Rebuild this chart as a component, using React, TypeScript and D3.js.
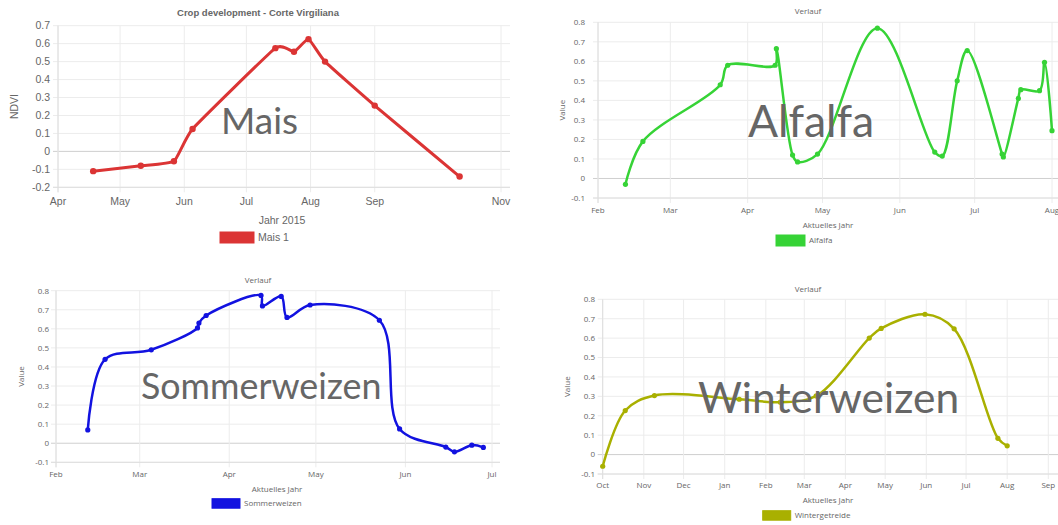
import React from "react";
import * as d3 from "d3";

// Mais 2015 (NDVI)
const maisDates = ["2015-04-18", "2015-05-11", "2015-05-27", "2015-06-05", "2015-07-15", "2015-07-24", "2015-07-31", "2015-08-08", "2015-09-01", "2015-10-12"];
const maisValues = [-0.11, -0.08, -0.055, 0.125, 0.575, 0.555, 0.625, 0.5, 0.255, -0.14];
const maisTicks = ["2015-04-01", "2015-05-01", "2015-06-01", "2015-07-01", "2015-08-01", "2015-09-01", "2015-11-01"];
const maisYTicks = [-0.2, -0.1, 0, 0.1, 0.2, 0.3, 0.4, 0.5, 0.6, 0.7];

// Alfalfa 2016
const alfalfaDates = ["2016-02-12", "2016-02-19", "2016-03-21", "2016-03-24", "2016-04-12", "2016-04-12T12", "2016-04-19", "2016-04-21", "2016-04-29", "2016-05-23", "2016-06-15", "2016-06-18", "2016-06-24", "2016-06-28", "2016-07-12", "2016-07-12T12", "2016-07-18T12", "2016-07-19T12", "2016-07-27", "2016-07-29", "2016-08-01"];
const alfalfaValues = [-0.03, 0.19, 0.48, 0.58, 0.58, 0.665, 0.12, 0.085, 0.125, 0.77, 0.135, 0.115, 0.5, 0.655, 0.125, 0.11, 0.41, 0.455, 0.45, 0.595, 0.245];
const alfalfaTicks = ["2016-02-01", "2016-03-01", "2016-04-01", "2016-05-01", "2016-06-01", "2016-07-01", "2016-08-01"];

// Sommerweizen 2016
const sommerDates = ["2016-02-12", "2016-02-18", "2016-03-05", "2016-03-21", "2016-03-21T12", "2016-03-24", "2016-04-12", "2016-04-12T12", "2016-04-19", "2016-04-21", "2016-04-29", "2016-05-23", "2016-05-30", "2016-06-15", "2016-06-18", "2016-06-24", "2016-06-28"];
const sommerValues = [0.07, 0.44, 0.49, 0.605, 0.63, 0.67, 0.775, 0.72, 0.77, 0.66, 0.725, 0.645, 0.075, -0.02, -0.045, -0.01, -0.022];
const sommerTicks = ["2016-02-01", "2016-03-01", "2016-04-01", "2016-05-01", "2016-06-01", "2016-07-01"];

// Wintergetreide 2015/16
const winterDates = ["2015-10-01", "2015-10-18", "2015-11-09", "2016-01-12", "2016-02-12", "2016-03-10", "2016-04-19", "2016-04-28", "2016-05-31", "2016-06-22", "2016-07-25", "2016-08-01"];
const winterValues = [-0.06, 0.227, 0.304, 0.285, 0.27, 0.302, 0.6, 0.65, 0.723, 0.648, 0.084, 0.045];
const winterTicks = ["2015-10-01", "2015-11-01", "2015-12-01", "2016-01-01", "2016-02-01", "2016-03-01", "2016-04-01", "2016-05-01", "2016-06-01", "2016-07-01", "2016-08-01", "2016-09-01"];

const valueYTicks = [-0.1, 0, 0.1, 0.2, 0.3, 0.4, 0.5, 0.6, 0.7, 0.8];

const parseHour = d3.utcParse("%Y-%m-%dT%H");
const parseDay = d3.utcParse("%Y-%m-%d");
const toDate = (s: string) => (parseHour(s) ?? parseDay(s)) as Date;
const monthFmt = d3.utcFormat("%b");

type PanelProps = {
  dates: string[];
  values: number[];
  ticks: string[];
  yTicks: number[];
  xDomain: [string, string];
  xRange: [number, number];
  left: number;
  right: number;
  top: number;
  bottom: number;
  color: string;
  font: string;
  fs: number;
  title: string;
  titleBold?: boolean;
  titleSize?: number;
  titleX: number;
  titleY: number;
  yLabel: string;
  yLabelX: number;
  yTickX: number;
  xLabelY: number;
  xTitle: string;
  xTitleX: number;
  xTitleY: number;
  legend: string;
  legendBox: [number, number, number, number];
  big: string;
  bigX: number;
  bigY: number;
  bigSize: number;
  lineW: number;
  r: number;
  curve: d3.CurveFactory;
};

function Panel(p: PanelProps) {
  const x = d3.scaleUtc().domain(p.xDomain.map(toDate)).range(p.xRange);
  const y = d3
    .scaleLinear()
    .domain([p.yTicks[0], p.yTicks[p.yTicks.length - 1]])
    .range([p.bottom, p.top]);
  const pts = p.dates.map((d, i) => ({ t: toDate(d), v: p.values[i] }));
  const line = d3
    .line<{ t: Date; v: number }>()
    .x((d) => x(d.t))
    .y((d) => y(d.v))
    .curve(p.curve);
  const [lx, ly, lw, lh] = p.legendBox;
  const txt = "#666";

  return (
    <g fontFamily={p.font}>
      <text x={p.titleX} y={p.titleY} textAnchor="middle" fontSize={p.titleSize ?? p.fs} fontWeight={p.titleBold ? "bold" : "normal"} fill={txt}>
        {p.title}
      </text>
      {p.yTicks.map((v) => (
        <g key={"y" + v}>
          <line x1={p.left - 5} x2={p.right} y1={y(v)} y2={y(v)} stroke={v === 0 ? "#cfcfcf" : "#ececec"} strokeWidth={1} />
          <text x={p.yTickX} y={y(v)} dy="0.35em" textAnchor="end" fontSize={p.fs} fill={txt}>
            {String(v)}
          </text>
        </g>
      ))}
      {p.ticks.map((s) => {
        const d = toDate(s);
        return (
          <g key={s}>
            <line x1={x(d)} x2={x(d)} y1={p.top} y2={p.bottom + 5} stroke="#ececec" strokeWidth={1} />
            <text x={x(d)} y={p.xLabelY} textAnchor="middle" fontSize={p.fs} fill={txt}>
              {monthFmt(d)}
            </text>
          </g>
        );
      })}
      <line x1={p.left} x2={p.left} y1={p.top} y2={p.bottom + 5} stroke="#dedede" strokeWidth={1} />
      <line x1={p.left - 5} x2={p.right} y1={p.bottom} y2={p.bottom} stroke="#dedede" strokeWidth={1} />
      <text transform={`translate(${p.yLabelX},${(p.top + p.bottom) / 2}) rotate(-90)`} textAnchor="middle" dy="0.35em" fontSize={p.fs} fill={txt}>
        {p.yLabel}
      </text>
      <text x={p.xTitleX} y={p.xTitleY} textAnchor="middle" fontSize={p.fs} fill={txt}>
        {p.xTitle}
      </text>
      <rect x={lx} y={ly} width={lw} height={lh} fill={p.color} stroke={p.color} />
      <text x={lx + lw + 4} y={ly + lh / 2} dy="0.35em" fontSize={p.fs} fill={txt}>
        {p.legend}
      </text>
      <path d={line(pts) ?? ""} fill="none" stroke={p.color} strokeWidth={p.lineW} strokeLinejoin="round" />
      {pts.map((d, i) => (
        <circle key={i} cx={x(d.t)} cy={y(d.v)} r={p.r} fill={p.color} />
      ))}
      <text x={p.bigX} y={p.bigY} fontSize={p.bigSize} fontFamily="Lato" fill="#666">
        {p.big}
      </text>
    </g>
  );
}

export default function App() {
  const small = "'Open Sans', sans-serif";
  const smooth = d3.curveCatmullRom.alpha(0.5);
  return (
    <svg width={1058} height={525} style={{ position: "absolute", left: 0, top: 0, background: "#fff" }}>
      <Panel
        dates={maisDates}
        values={maisValues}
        ticks={maisTicks}
        yTicks={maisYTicks}
        xDomain={["2015-04-01", "2015-11-01"]}
        xRange={[58, 501]}
        left={58}
        right={510}
        top={25.7}
        bottom={187.3}
        color="#db3434"
        font="'Liberation Sans', Arial, sans-serif"
        fs={10.5}
        title="Crop development - Corte Virgiliana"
        titleBold
        titleSize={9.5}
        titleX={258}
        titleY={16}
        yLabel="NDVI"
        yLabelX={14}
        yTickX={50}
        xLabelY={205}
        xTitle="Jahr 2015"
        xTitleX={282}
        xTitleY={224}
        legend="Mais 1"
        legendBox={[220, 232, 34, 11]}
        big="Mais"
        bigX={221}
        bigY={134}
        bigSize={37}
        lineW={3}
        r={3.2}
        curve={d3.curveCardinal.tension(0.6)}
      />
      <Panel
        dates={alfalfaDates}
        values={alfalfaValues}
        ticks={alfalfaTicks}
        yTicks={valueYTicks}
        xDomain={["2016-02-01", "2016-08-01"]}
        xRange={[598, 1052]}
        left={598}
        right={1070}
        top={22.3}
        bottom={198}
        color="#36d336"
        font={small}
        fs={8}
        title="Verlauf"
        titleX={808}
        titleY={14}
        yLabel="Value"
        yLabelX={562}
        yTickX={585}
        xLabelY={213}
        xTitle="Aktuelles Jahr"
        xTitleX={828}
        xTitleY={228}
        legend="Alfalfa"
        legendBox={[776, 235, 29, 11]}
        big="Alfalfa"
        bigX={748}
        bigY={137}
        bigSize={44.5}
        lineW={2.5}
        r={2.6}
        curve={smooth}
      />
      <Panel
        dates={sommerDates}
        values={sommerValues}
        ticks={sommerTicks}
        yTicks={valueYTicks}
        xDomain={["2016-02-01", "2016-07-01"]}
        xRange={[56, 492]}
        left={56}
        right={500}
        top={290.7}
        bottom={462.3}
        color="#1212e0"
        font={small}
        fs={8}
        title="Verlauf"
        titleX={258}
        titleY={283}
        yLabel="Value"
        yLabelX={21}
        yTickX={49}
        xLabelY={477}
        xTitle="Aktuelles Jahr"
        xTitleX={277}
        xTitleY={492}
        legend="Sommerweizen"
        legendBox={[212, 498.7, 28, 9.5]}
        big="Sommerweizen"
        bigX={141}
        bigY={399}
        bigSize={35.8}
        lineW={2.5}
        r={2.6}
        curve={smooth}
      />
      <Panel
        dates={winterDates}
        values={winterValues}
        ticks={winterTicks}
        yTicks={valueYTicks}
        xDomain={["2015-10-01", "2016-09-01"]}
        xRange={[602.7, 1048.3]}
        left={602.7}
        right={1070}
        top={299.3}
        bottom={474}
        color="#a9b000"
        font={small}
        fs={8}
        title="Verlauf"
        titleX={808}
        titleY={292}
        yLabel="Value"
        yLabelX={567}
        yTickX={595}
        xLabelY={488}
        xTitle="Aktuelles Jahr"
        xTitleX={828}
        xTitleY={503}
        legend="Wintergetreide"
        legendBox={[762.7, 510.7, 28, 9.5]}
        big="Winterweizen"
        bigX={698}
        bigY={413}
        bigSize={42.5}
        lineW={2.5}
        r={2.6}
        curve={smooth}
      />
    </svg>
  );
}
